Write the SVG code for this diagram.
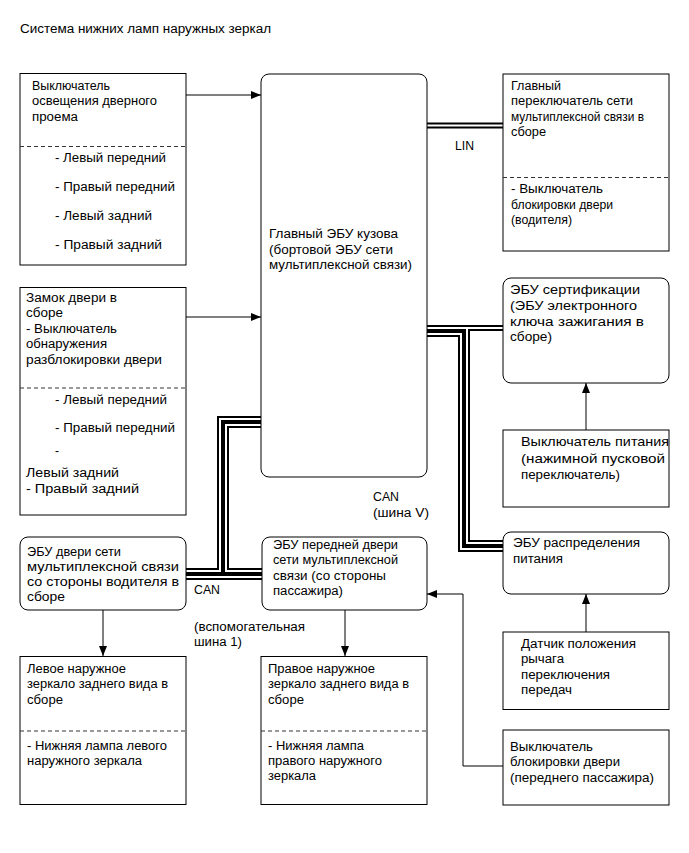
<svg xmlns="http://www.w3.org/2000/svg" width="689" height="853" viewBox="0 0 689 853">
<style>
  text { font-family: "Liberation Sans", Arial, sans-serif; font-size: 12px; fill: #000; }
  .big { font-size: 13px; }
  .box { fill: #fff; stroke: #000; stroke-width: 1; }
  .dash { stroke: #333; stroke-width: 1; stroke-dasharray: 4 3; fill: none; }
  .conn { stroke: #000; stroke-width: 1; fill: none; }
  .bus-o { stroke: #000; stroke-width: 6; fill: none; }
  .bus-i { stroke: #fff; stroke-width: 2; fill: none; }
</style>
<defs>
  <marker id="arr" viewBox="0 0 10 8" refX="10" refY="4" markerWidth="10" markerHeight="8" markerUnits="userSpaceOnUse" orient="auto">
    <path d="M0,0 L10,4 L0,8 Z" fill="#000"/>
  </marker>
</defs>
<rect width="689" height="853" fill="#fff"/>
<text x="20" y="33" textLength="251" lengthAdjust="spacingAndGlyphs">Система нижних ламп наружных зеркал</text>

<g id="connectors">
  <g id="buses">
    <path class="bus-o" d="M427,125.5 H503"/>
    <path class="bus-o" d="M427,328 H503"/>
    <path class="bus-o" d="M427,334 H461 V549 H503"/>
    <path class="bus-o" d="M467,328 V543 H503"/>
    <path class="bus-o" d="M261,419 H220 V571 H186"/>
    <path class="bus-o" d="M261,425 H226 V571 H262"/>
    <path class="bus-o" d="M186,577 H262"/>
    <path class="bus-i" d="M427,125.5 H503"/>
    <path class="bus-i" d="M427,328 H503"/>
    <path class="bus-i" d="M427,334 H461 V549 H503"/>
    <path class="bus-i" d="M467,328 V543 H503"/>
    <path class="bus-i" d="M261,419 H220 V571 H186"/>
    <path class="bus-i" d="M261,425 H226 V571 H262"/>
    <path class="bus-i" d="M186,577 H262"/>
  </g>
  <path class="conn" d="M186,95 H261" marker-end="url(#arr)"/>
  <path class="conn" d="M186,317 H261" marker-end="url(#arr)"/>
  <path class="conn" d="M586,430 V383" marker-end="url(#arr)"/>
  <path class="conn" d="M586,632 V594" marker-end="url(#arr)"/>
  <path class="conn" d="M103,610 V656" marker-end="url(#arr)"/>
  <path class="conn" d="M345,610 V656" marker-end="url(#arr)"/>
  <path class="conn" d="M503,766 H463 V594 H427" marker-end="url(#arr)"/>
  <text x="455" y="149.5" textLength="19" lengthAdjust="spacingAndGlyphs">LIN</text>
  <text x="373" y="501" textLength="26" lengthAdjust="spacingAndGlyphs">CAN</text>
  <text x="373" y="517" textLength="56" lengthAdjust="spacingAndGlyphs">(шина V)</text>
  <text x="194" y="594" textLength="26" lengthAdjust="spacingAndGlyphs">CAN</text>
  <text x="194" y="631" textLength="111" lengthAdjust="spacingAndGlyphs">(вспомогательная</text>
  <text x="194" y="646" textLength="48" lengthAdjust="spacingAndGlyphs">шина 1)</text>
</g>

<g id="door-light-switch">
  <rect class="box" x="20" y="73.5" width="166" height="191.5"/>
  <line class="dash" x1="20" y1="146.5" x2="186" y2="146.5"/>
  <text x="32" y="89.5" textLength="78" lengthAdjust="spacingAndGlyphs">Выключатель</text>
  <text x="32" y="105" textLength="125" lengthAdjust="spacingAndGlyphs">освещения дверного</text>
  <text x="32" y="121" textLength="46" lengthAdjust="spacingAndGlyphs">проема</text>
  <text x="55" y="161.5" textLength="111" lengthAdjust="spacingAndGlyphs">- Левый передний</text>
  <text x="55" y="191" textLength="120" lengthAdjust="spacingAndGlyphs">- Правый передний</text>
  <text x="55" y="220" textLength="97" lengthAdjust="spacingAndGlyphs">- Левый задний</text>
  <text x="55" y="249" textLength="107" lengthAdjust="spacingAndGlyphs">- Правый задний</text>
</g>

<g id="door-lock">
  <rect class="box" x="20" y="287.5" width="166" height="227.5"/>
  <line class="dash" x1="20" y1="388" x2="186" y2="388"/>
  <text x="26" y="301.5" textLength="91" lengthAdjust="spacingAndGlyphs">Замок двери в</text>
  <text x="26" y="316.5" textLength="37" lengthAdjust="spacingAndGlyphs">сборе</text>
  <text x="26" y="332.5" textLength="91" lengthAdjust="spacingAndGlyphs">- Выключатель</text>
  <text x="26" y="348" textLength="81" lengthAdjust="spacingAndGlyphs">обнаружения</text>
  <text x="26" y="364" textLength="136" lengthAdjust="spacingAndGlyphs">разблокировки двери</text>
  <text x="55" y="403.5" textLength="112" lengthAdjust="spacingAndGlyphs">- Левый передний</text>
  <text x="55" y="432" textLength="120" lengthAdjust="spacingAndGlyphs">- Правый передний</text>
  <text x="55" y="455">-</text>
  <text x="26" y="477" textLength="93" lengthAdjust="spacingAndGlyphs">Левый задний</text>
  <text x="26" y="492.5" textLength="113" lengthAdjust="spacingAndGlyphs">- Правый задний</text>
</g>

<g id="main-body-ecu">
  <rect class="box" x="261" y="74" width="166" height="403" rx="8"/>
  <text x="269" y="237.5" textLength="129" lengthAdjust="spacingAndGlyphs">Главный ЭБУ кузова</text>
  <text x="269" y="253.5" textLength="124" lengthAdjust="spacingAndGlyphs">(бортовой ЭБУ сети</text>
  <text x="269" y="269" textLength="143" lengthAdjust="spacingAndGlyphs">мультиплексной связи)</text>
</g>

<g id="master-switch">
  <rect class="box" x="503" y="74" width="166" height="177"/>
  <line class="dash" x1="503" y1="177.5" x2="669" y2="177.5"/>
  <text x="511" y="89.5" textLength="50" lengthAdjust="spacingAndGlyphs">Главный</text>
  <text x="511" y="104.5" textLength="122" lengthAdjust="spacingAndGlyphs">переключатель сети</text>
  <text x="511" y="120.5" textLength="133" lengthAdjust="spacingAndGlyphs">мультиплексной связи в</text>
  <text x="511" y="136" textLength="35" lengthAdjust="spacingAndGlyphs">сборе</text>
  <text x="511" y="192.5" textLength="92" lengthAdjust="spacingAndGlyphs">- Выключатель</text>
  <text x="511" y="208.5" textLength="102" lengthAdjust="spacingAndGlyphs">блокировки двери</text>
  <text x="511" y="223.5" textLength="61" lengthAdjust="spacingAndGlyphs">(водителя)</text>
</g>

<g id="certification-ecu">
  <rect class="box" x="503" y="278" width="166" height="105" rx="8"/>
  <text x="510" y="293.5" textLength="130" lengthAdjust="spacingAndGlyphs">ЭБУ сертификации</text>
  <text x="510" y="309.5" textLength="127" lengthAdjust="spacingAndGlyphs">(ЭБУ электронного</text>
  <text x="510" y="325.5" textLength="134" lengthAdjust="spacingAndGlyphs">ключа зажигания в</text>
  <text x="510" y="340.5" textLength="42" lengthAdjust="spacingAndGlyphs">сборе)</text>
</g>

<g id="power-switch">
  <rect class="box" x="503" y="430" width="166" height="77"/>
  <text class="big" x="521" y="446" textLength="148" lengthAdjust="spacingAndGlyphs">Выключатель питания</text>
  <text class="big" x="521" y="462.5" textLength="144" lengthAdjust="spacingAndGlyphs">(нажимной пусковой</text>
  <text class="big" x="521" y="479" textLength="99" lengthAdjust="spacingAndGlyphs">переключатель)</text>
</g>

<g id="power-distribution-ecu">
  <rect class="box" x="503" y="532" width="166" height="62" rx="8"/>
  <text x="513" y="547" textLength="127" lengthAdjust="spacingAndGlyphs">ЭБУ распределения</text>
  <text x="513" y="562.5" textLength="50" lengthAdjust="spacingAndGlyphs">питания</text>
</g>

<g id="driver-door-ecu">
  <rect class="box" x="20" y="537" width="166" height="73" rx="8"/>
  <text x="27" y="556" textLength="94" lengthAdjust="spacingAndGlyphs">ЭБУ двери сети</text>
  <text x="27" y="571" textLength="152" lengthAdjust="spacingAndGlyphs">мультиплексной связи</text>
  <text x="27" y="586" textLength="152" lengthAdjust="spacingAndGlyphs">со стороны водителя в</text>
  <text x="27" y="601" textLength="38" lengthAdjust="spacingAndGlyphs">сборе</text>
</g>

<g id="passenger-door-ecu">
  <rect class="box" x="262" y="537" width="165" height="73" rx="8"/>
  <text x="273" y="549" textLength="125" lengthAdjust="spacingAndGlyphs">ЭБУ передней двери</text>
  <text x="273" y="564" textLength="125" lengthAdjust="spacingAndGlyphs">сети мультиплексной</text>
  <text x="273" y="580" textLength="113" lengthAdjust="spacingAndGlyphs">связи (со стороны</text>
  <text x="273" y="595" textLength="70" lengthAdjust="spacingAndGlyphs">пассажира)</text>
</g>

<g id="left-mirror">
  <rect class="box" x="20" y="656.5" width="166" height="148"/>
  <line class="dash" x1="20" y1="731" x2="186" y2="731"/>
  <text x="27" y="673" textLength="99" lengthAdjust="spacingAndGlyphs">Левое наружное</text>
  <text x="27" y="688" textLength="141" lengthAdjust="spacingAndGlyphs">зеркало заднего вида в</text>
  <text x="27" y="704" textLength="36" lengthAdjust="spacingAndGlyphs">сборе</text>
  <text x="27" y="750" textLength="140" lengthAdjust="spacingAndGlyphs">- Нижняя лампа левого</text>
  <text x="27" y="765" textLength="115" lengthAdjust="spacingAndGlyphs">наружного зеркала</text>
</g>

<g id="right-mirror">
  <rect class="box" x="261" y="656.5" width="166" height="148"/>
  <line class="dash" x1="261" y1="731" x2="427" y2="731"/>
  <text x="268" y="673" textLength="107" lengthAdjust="spacingAndGlyphs">Правое наружное</text>
  <text x="268" y="688" textLength="141" lengthAdjust="spacingAndGlyphs">зеркало заднего вида в</text>
  <text x="268" y="704" textLength="36" lengthAdjust="spacingAndGlyphs">сборе</text>
  <text x="268" y="750" textLength="96" lengthAdjust="spacingAndGlyphs">- Нижняя лампа</text>
  <text x="268" y="765" textLength="114" lengthAdjust="spacingAndGlyphs">правого наружного</text>
  <text x="268" y="780" textLength="48" lengthAdjust="spacingAndGlyphs">зеркала</text>
</g>

<g id="shift-lever-sensor">
  <rect class="box" x="503" y="632" width="166" height="77.5"/>
  <text x="521" y="648" textLength="115" lengthAdjust="spacingAndGlyphs">Датчик положения</text>
  <text x="521" y="663" textLength="43" lengthAdjust="spacingAndGlyphs">рычага</text>
  <text x="521" y="679" textLength="89" lengthAdjust="spacingAndGlyphs">переключения</text>
  <text x="521" y="694" textLength="51" lengthAdjust="spacingAndGlyphs">передач</text>
</g>

<g id="passenger-lock-switch">
  <rect class="box" x="503" y="730" width="166" height="75"/>
  <text x="510" y="751" textLength="83" lengthAdjust="spacingAndGlyphs">Выключатель</text>
  <text x="510" y="766" textLength="110" lengthAdjust="spacingAndGlyphs">блокировки двери</text>
  <text x="510" y="782" textLength="144" lengthAdjust="spacingAndGlyphs">(переднего пассажира)</text>
</g>
</svg>
